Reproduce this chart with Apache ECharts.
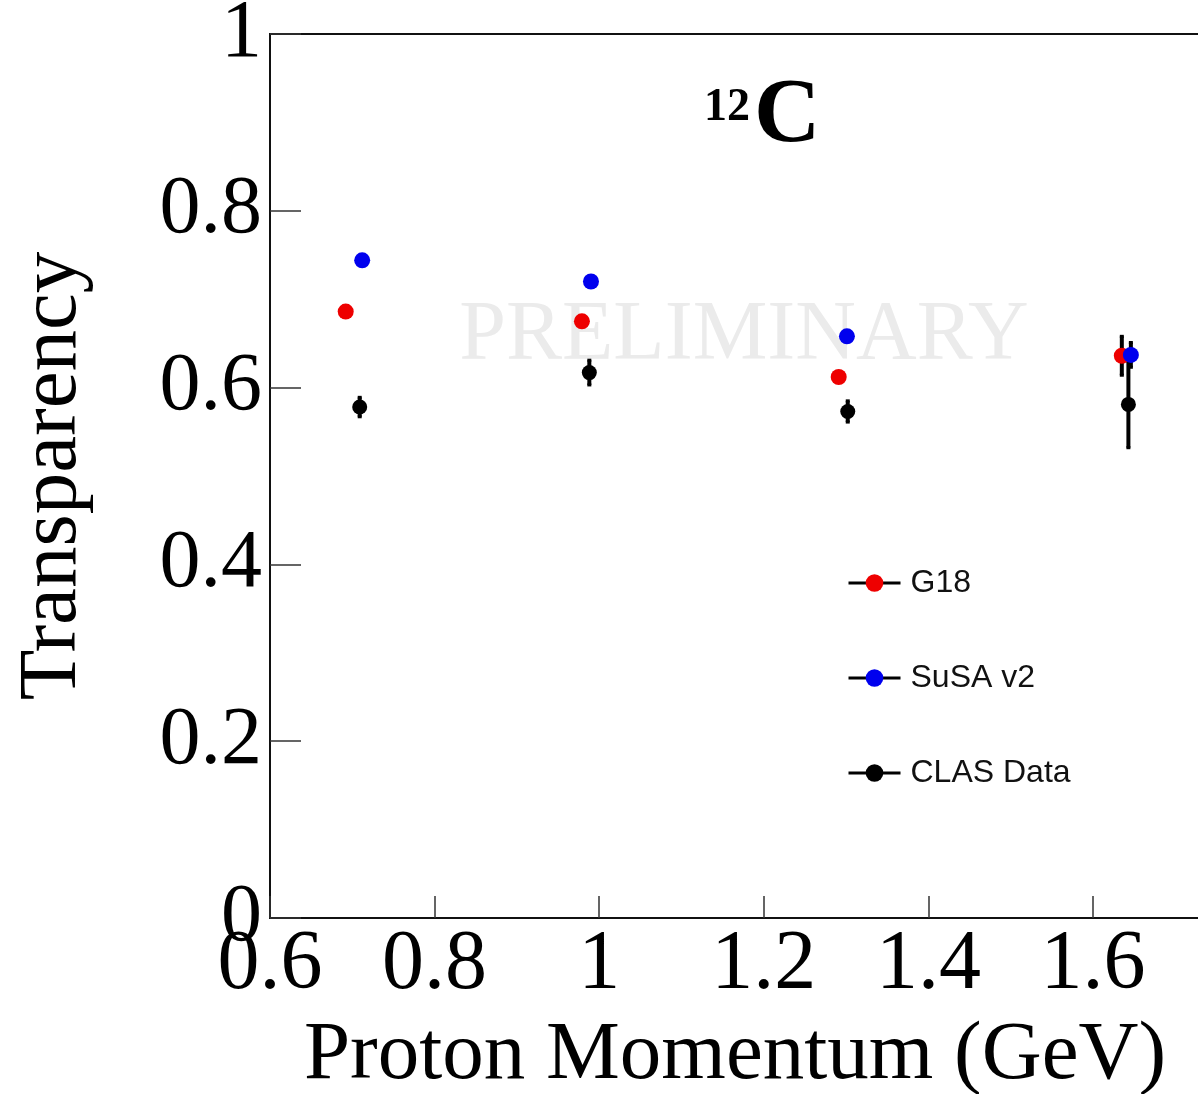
<!DOCTYPE html>
<html>
<head>
<meta charset="utf-8">
<title>Transparency vs proton momentum, 12C</title>
<script src="https://cdn.jsdelivr.net/npm/echarts@6/dist/echarts.min.js"></script>
<style>
  html, body { margin: 0; padding: 0; background: #fff; }
  #chart { width: 1198px; height: 1094px; }
</style>
</head>
<body>
<div id="chart"></div>
<script>
// Nuclear transparency of 12C versus proton momentum (GeV)
const xTickLabels = ['0.6', '0.8', '1', '1.2', '1.4', '1.6'];
const yTickLabels = ['0', '0.2', '0.4', '0.6', '0.8', '1'];

// G18 model
const momentumG18 = [0.692, 0.979, 1.291, 1.635];
const transG18    = [0.686, 0.675, 0.612, 0.636];
const errG18      = [0, 0, 0, 0.022];

// SuSA v2 model
const momentumSuSA = [0.712, 0.990, 1.301, 1.646];
const transSuSA    = [0.744, 0.720, 0.658, 0.637];
const errSuSA      = [0, 0, 0, 0.014];

// CLAS measurements
const momentumCLAS = [0.709, 0.988, 1.302, 1.643];
const transCLAS    = [0.578, 0.617, 0.573, 0.581];
const errCLAS      = [0.011, 0.014, 0.012, 0.049];

const SERIF = '"Liberation Serif", "DejaVu Serif", serif';
const SANS = '"Liberation Sans", Arial, sans-serif';

function points(xs, ys) { return xs.map((x, i) => [x, ys[i]]); }
function bars(xs, ys, es) {
  return xs.map((x, i) => [x, ys[i], es[i]]).filter(d => d[2] > 0);
}

// vertical error bar with short end caps
function errorBar(params, api) {
  const x = api.value(0), y = api.value(1), e = api.value(2);
  const hi = api.coord([x, y + e]);
  const lo = api.coord([x, y - e]);
  const style = { stroke: '#000', lineWidth: 4 };
  return {
    type: 'group',
    children: [
      { type: 'line', shape: { x1: hi[0], y1: hi[1], x2: lo[0], y2: lo[1] }, style: style },
      { type: 'line', shape: { x1: hi[0] - 2, y1: hi[1], x2: hi[0] + 2, y2: hi[1] }, style: { stroke: '#000', lineWidth: 3 } },
      { type: 'line', shape: { x1: lo[0] - 2, y1: lo[1], x2: lo[0] + 2, y2: lo[1] }, style: { stroke: '#000', lineWidth: 3 } }
    ]
  };
}

function pointSeries(name, color, size, xs, ys) {
  return {
    name: name,
    type: 'line',
    data: points(xs, ys),
    symbol: 'circle',
    symbolSize: size,
    showSymbol: true,
    itemStyle: { color: color },
    lineStyle: { width: 0, opacity: 0 },
    z: 3,
    silent: true
  };
}

function errSeries(xs, ys, es) {
  return {
    type: 'custom',
    renderItem: errorBar,
    data: bars(xs, ys, es),
    encode: { x: 0, y: 1 },
    z: 2,
    silent: true
  };
}

const chart = echarts.init(document.getElementById('chart'), null, { renderer: 'canvas' });

chart.setOption({
  animation: false,
  backgroundColor: '#fff',
  grid: {
    left: 270, top: 34, right: -2, bottom: 176,
    show: true, borderColor: '#111', borderWidth: 2,
    containLabel: false, outerBoundsMode: 'none'
  },
  xAxis: {
    type: 'value',
    min: 0.6, max: 1.73, interval: 0.2,
    splitLine: { show: false },
    axisLine: { show: true, onZero: false, lineStyle: { color: '#111', width: 2 } },
    axisTick: { show: true, inside: true, length: 22, lineStyle: { color: '#333', width: 1.5 } },
    axisLabel: {
      margin: 6, fontFamily: SERIF, fontSize: 84, color: '#000',
      showMaxLabel: false,
      formatter: v => {
        const s = String(Math.round(v * 10) / 10);
        return xTickLabels.indexOf(s) >= 0 ? s : '';
      }
    },
    name: 'Proton Momentum (GeV)',
    nameLocation: 'middle', nameGap: 97, nameMoveOverlap: false,
    nameTextStyle: { fontFamily: SERIF, fontSize: 83, color: '#000' }
  },
  yAxis: {
    type: 'value',
    min: 0, max: 1, interval: 0.2,
    splitLine: { show: false },
    axisLine: { show: true, onZero: false, lineStyle: { color: '#111', width: 2 } },
    axisTick: { show: true, inside: true, length: 31, lineStyle: { color: '#333', width: 1.5 } },
    axisLabel: {
      margin: 8, fontFamily: SERIF, fontSize: 82, color: '#000',
      formatter: v => {
        const s = String(Math.round(v * 10) / 10);
        return yTickLabels.indexOf(s) >= 0 ? s : '';
      }
    },
    name: 'Transparency',
    nameLocation: 'middle', nameRotate: 90, nameGap: 175, nameMoveOverlap: false,
    nameTextStyle: { fontFamily: SERIF, fontSize: 83, color: '#000' }
  },
  legend: {
    orient: 'vertical',
    left: 847, top: 567, padding: 0,
    itemWidth: 52, itemHeight: 22, itemGap: 63,
    data: ['G18', 'SuSA v2', 'CLAS Data'],
    lineStyle: { color: '#000', width: 3, opacity: 1, type: 'solid' },
    textStyle: { fontFamily: SANS, fontSize: 32, color: '#111', lineHeight: 32, padding: [0, 0, 0, 5] },
    selectedMode: false
  },
  graphic: [
    {
      type: 'text', z: 0, silent: true,
      style: {
        x: 744, y: 337, text: 'PRELIMINARY',
        font: '84px ' + SERIF, fill: '#ebebeb',
        textAlign: 'center', textVerticalAlign: 'middle'
      }
    },
    {
      type: 'text', silent: true,
      style: {
        x: 704, y: 108, text: '12',
        font: 'bold 46px ' + SERIF, fill: '#000',
        textAlign: 'left', textVerticalAlign: 'middle'
      }
    },
    {
      type: 'text', silent: true,
      style: {
        x: 754, y: 117, text: 'C',
        font: 'bold 92px ' + SERIF, fill: '#000',
        textAlign: 'left', textVerticalAlign: 'middle'
      }
    }
  ],
  series: [
    errSeries(momentumG18, transG18, errG18),
    errSeries(momentumSuSA, transSuSA, errSuSA),
    errSeries(momentumCLAS, transCLAS, errCLAS),
    pointSeries('G18', '#ee0000', 16, momentumG18, transG18),
    pointSeries('SuSA v2', '#0000ee', 16, momentumSuSA, transSuSA),
    pointSeries('CLAS Data', '#000000', 15, momentumCLAS, transCLAS)
  ]
});
</script>
</body>
</html>
